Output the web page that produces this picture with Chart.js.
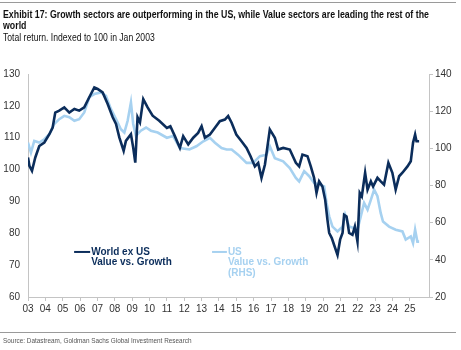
<!DOCTYPE html>
<html>
<head>
<meta charset="utf-8">
<script src="https://cdn.jsdelivr.net/npm/chart.js@4/dist/chart.umd.min.js"></script>
<style>
  html, body { margin: 0; padding: 0; background: #fff; }
  #wrap { position: relative; width: 461px; height: 350px; overflow: hidden; }
  #chart { position: absolute; left: 0; top: 0; }
  .rule { position: absolute; left: 0; width: 456px; height: 0; border-top: 1px solid #9a9a9a; }
  .txt { position: absolute; left: 3px; font-family: "Liberation Sans", Arial, sans-serif; color: #111;
         white-space: nowrap; transform-origin: 0 0; }
  #title { top: 9px; font-size: 11px; font-weight: bold; line-height: 10.8px; transform: scaleX(0.80); }
  #sub { top: 31px; font-size: 10.5px; transform: scaleX(0.82); }
  #src { top: 336px; font-size: 8px; color: #555; transform: scaleX(0.80); }
</style>
</head>
<body>
<div id="wrap">
  <canvas id="chart" width="461" height="350"></canvas>
  <div class="rule" style="top:2px"></div>
  <div class="txt" id="title">Exhibit 17: Growth sectors are outperforming in the US, while Value sectors are leading the rest of the<br>world</div>
  <div class="txt" id="sub">Total return. Indexed to 100 in Jan 2003</div>
  <div class="rule" style="top:332px"></div>
  <div class="txt" id="src">Source: Datastream, Goldman Sachs Global Investment Research</div>
</div>
<script>
// ---- data ----
// World ex US Value vs. Growth (left axis)
const worldYears = [2003.0, 2003.08, 2003.23, 2003.42, 2003.65, 2003.94, 2004.23, 2004.42, 2004.57, 2004.8,
  2005.09, 2005.38, 2005.67, 2005.95, 2006.24, 2006.53, 2006.82, 2007.01, 2007.3, 2007.59,
  2007.88, 2008.07, 2008.26, 2008.51, 2008.64, 2008.93, 2009.06, 2009.18, 2009.31, 2009.45,
  2009.64, 2009.89, 2010.18, 2010.56, 2011.0, 2011.2, 2011.46, 2011.75, 2011.94, 2012.23,
  2012.52, 2012.8, 2013.0, 2013.19, 2013.48, 2013.77, 2014.05, 2014.34, 2014.53, 2014.73,
  2015.0, 2015.3, 2015.59, 2015.82, 2016.07, 2016.26, 2016.45, 2016.65, 2016.93, 2017.22,
  2017.41, 2017.7, 2018.08, 2018.43, 2018.62, 2018.81, 2019.1, 2019.29, 2019.48, 2019.62,
  2019.77, 2019.96, 2020.12, 2020.25, 2020.35, 2020.5, 2020.63, 2020.83, 2020.98, 2021.12,
  2021.21, 2021.35, 2021.5, 2021.69, 2021.83, 2021.98, 2022.11, 2022.23, 2022.42, 2022.56,
  2022.75, 2022.88, 2023.13, 2023.32, 2023.51, 2023.76, 2023.99, 2024.18, 2024.38, 2024.57,
  2024.86, 2025.05, 2025.18, 2025.3, 2025.38, 2025.53];
const worldValues = [103.8, 101.2, 99.6, 103.8, 107.4, 108.5, 111.1, 113.2, 117.9, 118.5,
  119.5, 117.9, 119, 118.5, 119.5, 122.7, 125.8, 125.3, 124.2, 120.6,
  116.4, 114.3, 110.1, 105.9, 109, 111.1, 106.9, 102.2, 116.4, 114.8,
  122.1, 119.5, 116.9, 115.3, 113.1, 113.6, 110.5, 106.8, 110.5, 107.9,
  110, 111.5, 113.6, 110, 111, 113.1, 115.2, 115.7, 116.8, 114.7,
  111, 108.9, 106.8, 104.2, 101, 102.1, 97.4, 101.6, 112.6, 110,
  106.3, 106.8, 106.3, 102.1, 101, 104.7, 104.2, 101, 97.4, 92.7,
  96.3, 94.7, 90.5, 84.2, 80.1, 78.5, 76.4, 73.2, 78, 80.1,
  85.8, 85.3, 80.1, 79.5, 82.1, 77.4, 92.7, 91.6, 99, 93.7,
  96.3, 94.7, 97.4, 96.3, 95.3, 102.1, 99, 93.7, 97.9, 99,
  101, 102.6, 108.4, 111, 108.9, 108.9];

// US Value vs. Growth (right axis)
const usYears = [2003.0, 2003.17, 2003.36, 2003.65, 2003.94, 2004.23, 2004.51, 2004.8, 2005.09, 2005.38,
  2005.67, 2005.95, 2006.24, 2006.53, 2006.82, 2007.2, 2007.49, 2007.78, 2008.07, 2008.35,
  2008.55, 2008.74, 2008.93, 2009.06, 2009.22, 2009.5, 2009.8, 2010.08, 2010.47, 2011.0,
  2011.36, 2011.75, 2012.3, 2012.7, 2013.1, 2013.48, 2013.77, 2014.15, 2014.44, 2014.73,
  2015.1, 2015.59, 2015.97, 2016.36, 2016.74, 2016.93, 2017.22, 2017.7, 2018.08, 2018.43,
  2018.62, 2018.91, 2019.2, 2019.48, 2019.77, 2020.06, 2020.2, 2020.35, 2020.54, 2020.83,
  2021.12, 2021.27, 2021.5, 2021.79, 2021.98, 2022.17, 2022.36, 2022.56, 2022.75, 2022.94,
  2023.13, 2023.32, 2023.45, 2023.8, 2024.18, 2024.57, 2024.76, 2025.05, 2025.18, 2025.3,
  2025.43, 2025.53];
const usValues = [103.1, 97.7, 104.0, 103.1, 104.9, 107.6, 113.1, 115.7, 117.5, 116.7,
  114.8, 115.7, 119.3, 127.5, 129.2, 130.1, 128.3, 121.1, 115.7, 110.3,
  108.5, 114.8, 124.7, 113.1, 106.7, 109.5, 111.2, 109.5, 108.5, 105.7,
  106.6, 100.2, 99.4, 101.1, 103.8, 105.7, 103.0, 100.2, 99.4, 99.4,
  96.6, 92.2, 92.2, 95.8, 96.6, 101.1, 94.7, 93.0, 89.4, 84.1,
  82.2, 87.7, 85.0, 81.4, 80.5, 79.5, 70.6, 63.4, 57.9, 55.3,
  57.9, 64.2, 57.9, 57.0, 56.2, 63.4, 70.6, 67.0, 72.3, 77.8,
  74.2, 65.1, 60.6, 57.9, 56.2, 55.3, 50.9, 52.6, 49.0, 56.2,
  49.8, 49.8];

// ---- axis / tick setup ----
const leftTicks = [60, 70, 80, 90, 100, 110, 120, 130];
const rightTicks = [20, 40, 60, 80, 100, 120, 140];
const yearTicks = [2003, 2004, 2005, 2006, 2007, 2008, 2009, 2010, 2011, 2012, 2013, 2014,
  2015, 2016, 2017, 2018, 2019, 2020, 2021, 2022, 2023, 2024, 2025];

const NAVY = '#0b2d5b';
const LIGHT = '#a6d1f0';
const AXIS = '#c4c4c4';
const FONT = '"Liberation Sans", Arial, sans-serif';

const toPoints = (xs, ys) => xs.map((x, i) => ({ x, y: ys[i] }));

// legend drawn inside the plot, like the original
const inlineLegend = {
  id: 'inlineLegend',
  afterDatasetsDraw(chart) {
    const { ctx, chartArea: a } = chart;
    const w = a.right - a.left, h = a.bottom - a.top;
    const items = [
      { color: NAVY, x0: 0.115, x1: 0.155, lines: ['World ex US', 'Value vs. Growth'] },
      { color: LIGHT, x0: 0.459, x1: 0.496, lines: ['US', 'Value vs. Growth', '(RHS)'] }
    ];
    const y = a.top + h * 0.798;
    ctx.save();
    ctx.font = 'bold 10px ' + FONT;
    ctx.textBaseline = 'middle';
    items.forEach(it => {
      ctx.strokeStyle = it.color;
      ctx.lineWidth = 2;
      ctx.beginPath();
      ctx.moveTo(a.left + w * it.x0, y);
      ctx.lineTo(a.left + w * it.x1, y);
      ctx.stroke();
      ctx.fillStyle = it.color;
      it.lines.forEach((t, i) => ctx.fillText(t, a.left + w * it.x1 + 1, y + i * 10.5));
    });
    ctx.restore();
  }
};

new Chart(document.getElementById('chart'), {
  type: 'line',
  data: {
    datasets: [
      {
        label: 'World ex US Value vs. Growth',
        data: toPoints(worldYears, worldValues),
        yAxisID: 'y',
        borderColor: NAVY,
        borderWidth: 2.6,
        pointRadius: 0,
        tension: 0
      },
      {
        label: 'US Value vs. Growth (RHS)',
        data: toPoints(usYears, usValues),
        yAxisID: 'y2',
        borderColor: LIGHT,
        borderWidth: 2.6,
        pointRadius: 0,
        tension: 0
      }
    ]
  },
  options: {
    responsive: false,
    animation: false,
    layout: { padding: { top: 74, left: 0, right: 0, bottom: 0 } },
    plugins: { legend: { display: false }, tooltip: { enabled: false } },
    scales: {
      x: {
        type: 'linear',
        min: 2003,
        max: 2026.1,
        afterBuildTicks: s => { s.ticks = yearTicks.map(v => ({ value: v })); },
        afterFit: s => { s.height = 53; },
        ticks: {
          callback: v => String(v).slice(2),
          color: '#333',
          font: { family: FONT, size: 10 },
          padding: 2,
          maxRotation: 0,
          autoSkip: false
        },
        grid: { drawOnChartArea: false, drawTicks: true, tickLength: 4, color: AXIS },
        border: { display: true, color: AXIS, dash: [1, 1] }
      },
      y: {
        position: 'left',
        min: 60,
        max: 130,
        afterBuildTicks: s => { s.ticks = leftTicks.map(v => ({ value: v })); },
        afterFit: s => { s.width = 28; },
        ticks: { color: '#333', font: { family: FONT, size: 10 }, padding: 8 },
        grid: { display: false, drawTicks: false },
        border: { display: true, color: AXIS, dash: [1, 1] }
      },
      y2: {
        position: 'right',
        min: 20,
        max: 140,
        afterBuildTicks: s => { s.ticks = rightTicks.map(v => ({ value: v })); },
        afterFit: s => { s.width = 32; },
        ticks: { color: '#333', font: { family: FONT, size: 10 }, padding: 2 },
        grid: { drawOnChartArea: false, drawTicks: true, tickLength: 4, color: AXIS },
        border: { display: true, color: AXIS }
      }
    }
  },
  plugins: [inlineLegend]
});
</script>
</body>
</html>
